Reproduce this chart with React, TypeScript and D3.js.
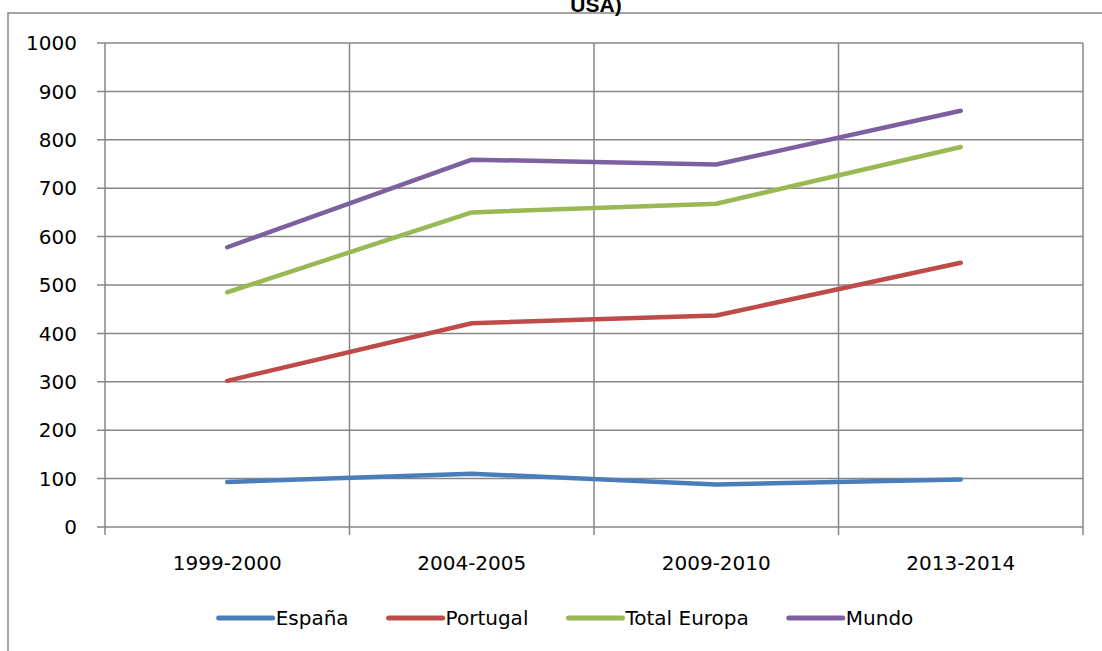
import React, { useEffect, useRef } from 'react';
import * as d3 from 'd3';

const periods = ['1999-2000', '2004-2005', '2009-2010', '2013-2014'];
const espana = [93, 110, 88, 98];
const portugal = [302, 421, 437, 546];
const totalEuropa = [485, 650, 668, 785];
const mundo = [578, 759, 749, 860];
const seriesNames = ['España', 'Portugal', 'Total Europa', 'Mundo'];
const seriesColors = ['#4A7EBB', '#BE4B48', '#98B954', '#7D60A0'];
const yTicks = [0, 100, 200, 300, 400, 500, 600, 700, 800, 900, 1000];

const FONT = '"DejaVu Sans", sans-serif';

const App = () => {
  const svgRef = useRef<SVGSVGElement>(null);

  useEffect(() => {
    const root = d3.select(svgRef.current);
    root.selectAll('*').remove();

    const width = 1102;
    const height = 651;
    const left = 105, right = 1083, top = 43, bottom = 527;
    const grid = '#868686';

    root.attr('width', width).attr('height', height);

    // outer chart border (runs off page at right / bottom)
    root.append('rect')
      .attr('x', 8).attr('y', 13)
      .attr('width', 1200).attr('height', 800)
      .attr('fill', 'white')
      .attr('stroke', grid)
      .attr('stroke-width', 1.5);

    // title, only the tail of its last line is on the page
    root.append('text')
      .attr('x', 596).attr('y', 12)
      .attr('text-anchor', 'middle')
      .attr('font-family', '"Liberation Sans", Arial, sans-serif')
      .attr('font-weight', 'bold')
      .attr('font-size', 21)
      .text('USA)');

    const x = d3.scaleBand().domain(periods).range([left, right]);
    const y = d3.scaleLinear().domain([0, 1000]).range([bottom, top]);

    const g = root.append('g');

    // horizontal grid + left ticks
    g.selectAll('.hgrid')
      .data(yTicks)
      .enter()
      .append('line')
      .attr('x1', left - 8)
      .attr('x2', right)
      .attr('y1', d => y(d))
      .attr('y2', d => y(d))
      .attr('stroke', grid)
      .attr('stroke-width', 1.5);

    // vertical grid + bottom ticks
    const edges = periods.map(p => x(p) as number).concat([right]);
    g.selectAll('.vgrid')
      .data(edges)
      .enter()
      .append('line')
      .attr('x1', d => d)
      .attr('x2', d => d)
      .attr('y1', top)
      .attr('y2', bottom + 8)
      .attr('stroke', grid)
      .attr('stroke-width', 1.5);

    // y labels
    g.selectAll('.ylab')
      .data(yTicks)
      .enter()
      .append('text')
      .attr('x', left - 28)
      .attr('y', d => y(d))
      .attr('dy', '0.36em')
      .attr('text-anchor', 'end')
      .attr('font-family', FONT)
      .attr('font-size', 20)
      .text(d => d);

    // x labels
    g.selectAll('.xlab')
      .data(periods)
      .enter()
      .append('text')
      .attr('x', d => (x(d) as number) + x.bandwidth() / 2)
      .attr('y', 570)
      .attr('text-anchor', 'middle')
      .attr('font-family', FONT)
      .attr('font-size', 20)
      .text(d => d);

    const allSeries = [espana, portugal, totalEuropa, mundo];
    const line = d3.line<number>()
      .x((_, i) => (x(periods[i]) as number) + x.bandwidth() / 2)
      .y(d => y(d));

    allSeries.forEach((vals, i) => {
      g.append('path')
        .attr('d', line(vals))
        .attr('fill', 'none')
        .attr('stroke', seriesColors[i])
        .attr('stroke-width', 4.5)
        .attr('stroke-linecap', 'round')
        .attr('stroke-linejoin', 'round');
    });

    // legend
    const legend = root.append('g');
    const legY = 618;
    const lineLen = 54;
    const items = seriesNames.map((name, i) => {
      const it = legend.append('g');
      it.append('line')
        .attr('x1', 0).attr('x2', lineLen)
        .attr('y1', legY).attr('y2', legY)
        .attr('stroke', seriesColors[i])
        .attr('stroke-width', 5)
        .attr('stroke-linecap', 'round');
      const t = it.append('text')
        .attr('x', lineLen + 3)
        .attr('y', legY)
        .attr('dy', '0.36em')
        .attr('font-family', FONT)
        .attr('font-size', 20)
        .text(name);
      const w = (t.node() as SVGTextElement).getComputedTextLength();
      return { it, w: lineLen + 3 + w };
    });
    const gap = 40;
    const total = d3.sum(items, d => d.w) + gap * (items.length - 1);
    let cx = 566 - total / 2;
    items.forEach(d => {
      d.it.attr('transform', `translate(${cx},0)`);
      cx += d.w + gap;
    });
  }, []);

  return (
    <svg
      ref={svgRef}
      style={{ position: 'absolute', left: 0, top: 0, display: 'block', background: 'white' }}
    />
  );
};

export default App;
